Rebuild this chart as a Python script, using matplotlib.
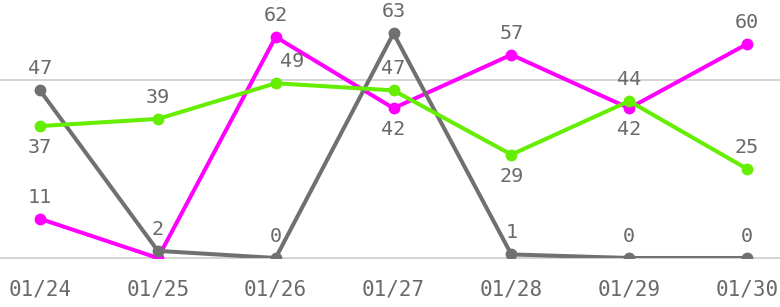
import matplotlib
matplotlib.use("Agg")
import matplotlib.pyplot as plt

dates = ["01/24", "01/25", "01/26", "01/27", "01/28", "01/29", "01/30"]
gray_vals = [47, 2, 0, 63, 1, 0, 0]
magenta_vals = [11, 0, 62, 42, 57, 42, 60]
green_vals = [37, 39, 49, 47, 29, 44, 25]

# label placement: +1 above, -1 below, 0 hidden
gray_pos = [1, 1, 1, 1, 1, 1, 1]
magenta_pos = [1, 0, 1, -1, 1, -1, 1]
green_pos = [-1, 1, 1, 1, -1, 1, 1]
green_dx = [0, 0, 16, 0, 0, 0, 0]

W, H = 780, 307
fig = plt.figure(figsize=(W / 100, H / 100), dpi=100)
y0px = 258
ax = fig.add_axes([0, (H - y0px) / H, 1, y0px / H])
pxu = 178.3 / 50.0
ax.set_ylim(0, y0px / pxu)
sp = 117.83
ax.set_xlim(-40 / sp, 6 + 33 / sp)

for s in ax.spines.values():
    s.set_visible(False)
ax.set_yticks([])
ax.axhline(0, color="#cccccc", lw=1.2, zorder=1, clip_on=False)
ax.axhline(50, color="#cccccc", lw=1.2, zorder=1)

x = list(range(len(dates)))
series = [
    (magenta_vals, "#ff00ff", magenta_pos, None, 2),
    (gray_vals, "#707070", gray_pos, None, 3),
    (green_vals, "#66ee00", green_pos, green_dx, 4),
]
mono = "DejaVu Sans Mono"
for vals, col, pos, dx, z in series:
    ln, = ax.plot(x, vals, color=col, lw=2.9, marker="o", ms=7.5, zorder=z,
                  solid_capstyle="round")
    ln.set_clip_on(True)
    for i, v in enumerate(vals):
        if pos[i] == 0:
            continue
        ddx = dx[i] if dx else 0
        ax.annotate(str(v), (i, v), xytext=(ddx * 0.72, pos[i] * 15.5),
                    textcoords="offset points", ha="center", va="center",
                    fontsize=14.5, family=mono, color="#6a6a6a", zorder=10,
                    annotation_clip=False)

ax.set_xticks(x)
ax.set_xticklabels(dates, family=mono, fontsize=15, color="#6a6a6a")
ax.tick_params(axis="x", length=0, pad=15.5)

fig.savefig("out.png", dpi=100)
